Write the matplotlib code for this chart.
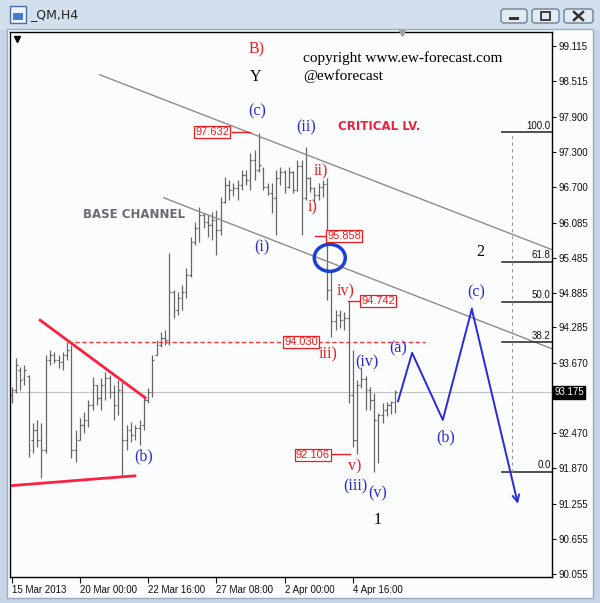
import numpy as np
import matplotlib.pyplot as plt
from matplotlib.patches import Rectangle, Ellipse, FancyBboxPatch
from matplotlib.transforms import blended_transform_factory

W, H = 600, 603

# _QM H4 bars, index 0 = 15 Mar 2013
bar_open = [93.13, 93.21, 93.56, 93.42, 93.45, 92.35, 92.53, 92.35, 92.18, 93.73,
            93.81, 93.73, 93.69, 93.81, 93.90, 92.18, 92.35, 92.61, 92.70, 92.96,
            93.30, 93.08, 93.30, 93.42, 93.18, 92.96, 93.21, 92.35, 92.53, 92.44,
            92.56, 92.61, 93.04, 93.18, 93.81, 93.98, 94.10, 94.07, 94.90, 94.59,
            94.79, 94.89, 95.19, 95.75, 95.99, 96.22, 96.10, 96.04, 96.13, 95.96,
            96.44, 96.73, 96.64, 96.68, 96.73, 96.90, 96.82, 97.16, 96.99, 97.00,
            96.70, 96.60, 96.50, 96.85, 96.95, 96.70, 96.95, 96.65, 97.05, 96.50,
            96.85, 96.68, 96.56, 96.70, 96.75, 94.93, 94.40, 94.50, 94.41, 94.45,
            93.13, 92.35, 93.30, 93.40, 93.21, 93.04, 92.70, 92.78, 92.87, 92.95,
            93.00]
bar_high = [93.26, 93.76, 93.61, 93.64, 93.47, 92.65, 92.70, 92.65, 93.81, 93.90,
            93.86, 93.81, 93.86, 94.04, 93.98, 92.53, 92.73, 92.84, 93.04, 93.44,
            93.30, 93.42, 93.52, 93.47, 93.30, 93.38, 93.35, 92.61, 92.66, 92.61,
            92.70, 93.13, 93.25, 93.81, 94.07, 94.21, 94.24, 95.56, 94.93, 94.89,
            95.01, 95.31, 95.84, 96.10, 96.35, 96.25, 96.22, 96.27, 96.30, 96.52,
            96.87, 96.82, 96.76, 96.82, 96.99, 96.99, 97.28, 97.33, 97.63, 97.04,
            96.76, 96.76, 96.99, 97.04, 96.99, 97.04, 96.97, 97.16, 97.16, 97.38,
            96.86, 96.70, 96.76, 96.82, 96.85, 95.27, 94.59, 94.59, 94.55, 94.74,
            93.90, 93.38, 93.60, 93.45, 93.26, 93.16, 92.82, 92.99, 93.01, 93.03,
            93.21]
bar_low = [92.99, 93.16, 93.21, 93.30, 92.06, 92.13, 92.23, 91.70, 92.13, 93.64,
           93.68, 93.59, 93.56, 93.73, 92.05, 91.98, 92.35, 92.47, 92.58, 92.87,
           92.96, 92.87, 93.04, 93.08, 92.70, 92.78, 91.72, 92.18, 92.32, 92.35,
           92.27, 92.53, 92.99, 93.09, 93.81, 93.95, 93.98, 93.98, 94.45, 94.50,
           94.59, 94.79, 95.15, 95.70, 95.75, 95.99, 95.84, 95.79, 95.53, 95.87,
           96.42, 96.47, 96.54, 96.47, 96.64, 96.73, 96.64, 96.82, 96.95, 96.64,
           96.56, 96.25, 95.87, 96.73, 96.59, 96.68, 96.59, 96.62, 95.87, 96.47,
           96.61, 96.44, 96.47, 96.52, 94.76, 94.12, 94.24, 94.28, 94.24, 92.99,
           92.23, 92.11, 93.25, 92.87, 92.87, 91.81, 91.96, 92.64, 92.76, 92.80,
           92.82]
bar_close = [93.21, 93.64, 93.38, 93.56, 92.18, 92.53, 92.35, 92.18, 93.73, 93.81,
             93.73, 93.69, 93.81, 93.90, 92.18, 92.35, 92.61, 92.70, 92.96, 93.30,
             93.08, 93.30, 93.42, 93.18, 92.96, 93.21, 92.35, 92.53, 92.44, 92.56,
             92.61, 93.04, 93.18, 93.73, 93.98, 94.10, 94.07, 94.90, 94.59, 94.79,
             94.89, 95.19, 95.75, 95.99, 96.22, 96.10, 96.04, 96.13, 95.96, 96.44,
             96.73, 96.64, 96.68, 96.73, 96.90, 96.82, 97.16, 96.99, 97.07, 96.70,
             96.60, 96.50, 96.85, 96.95, 96.70, 96.95, 96.65, 97.05, 96.50, 96.85,
             96.68, 96.56, 96.70, 96.75, 94.93, 94.40, 94.50, 94.41, 94.45, 93.13,
             92.35, 93.30, 93.40, 93.21, 93.04, 92.70, 92.78, 92.87, 92.95, 93.00,
             93.175]

yticks = [99.115, 98.515, 97.900, 97.300, 96.700, 96.085, 95.485, 94.885,
          94.285, 93.670, 93.070, 92.470, 91.870, 91.255, 90.655, 90.055]
xtick_pos = [0, 16, 32, 48, 64, 80]
xtick_labels = ['15 Mar 2013', '20 Mar 00:00', '22 Mar 16:00', '27 Mar 08:00',
                '2 Apr 00:00', '4 Apr 16:00']
last_price = 93.175

# drawn objects (bar index, price)
channel_up_x, channel_up_y = [20.7, 126.7], [98.62, 95.62]
channel_lo_x, channel_lo_y = [35.7, 126.7], [96.51, 93.92]
tri_up_x, tri_up_y = [6.7, 31.3], [94.41, 93.08]
tri_lo_x, tri_lo_y = [-0.4, 28.9], [91.57, 91.74]
level_940 = 94.030
level_940_x = [13.2, 96.9]
proj_x = [90.6, 93.9, 101.1, 107.9, 118.7]
proj_y = [93.02, 93.85, 92.70, 94.60, 91.26]
fib_high, fib_low = 97.632, 91.805
fib_levels = [100.0, 61.8, 50.0, 38.2, 0.0]
fib_x0, fib_vx = 115.0, 117.3
circle_x, circle_y = 74.6, 95.48

# price tags: (text, price, line x0, line x1, box centre px)
price_tags = [('97.632', 97.632, 51.7, 55.9, (212, 132)),
              ('95.858', 95.858, 71.1, 73.7, (344, 236)),
              ('94.742', 94.742, 78.9, 81.5, (378, 301)),
              ('94.030', 94.030, None, None, (301, 342)),
              ('92.106', 92.106, 75.1, 79.3, (313, 455))]

red = '#f01c1c'
blue = '#2828e0'
wave_labels = [('B)', 257, 49, red), ('Y', 256, 77, 'black'),
               ('(c)', 257, 111, blue), ('(ii)', 306, 127, blue),
               ('ii)', 321, 171, red), ('i)', 313, 207, red),
               ('(i)', 262, 247, blue), ('iv)', 346, 291, red),
               ('iii)', 328, 354, red), ('(iv)', 367, 362, blue),
               ('(a)', 398, 348, blue), ('v)', 355, 466, red),
               ('(iii)', 355, 486, blue), ('(v)', 378, 493, blue),
               ('1', 378, 520, 'black'), ('2', 480, 252, 'black'),
               ('(c)', 476, 292, blue), ('(b)', 446, 437, blue),
               ('(b)', 144, 456, blue)]

plt.rcParams['font.family'] = ['Liberation Sans', 'DejaVu Sans']

fig = plt.figure(figsize=(W / 100, H / 100), dpi=100)
fig.patch.set_facecolor('#c6d4e5')

# window chrome
bg = fig.add_axes([0, 0, 1, 1], zorder=0)
bg.set_xlim(0, W)
bg.set_ylim(H, 0)
bg.axis('off')
bg.add_patch(Rectangle((0, 0), W, 30, fc='#d3dfed', ec='none'))
bg.add_patch(Rectangle((7, 29), 586, 569, fc='#fbfcfe', ec='#98abc3', lw=1))
bg.add_patch(Rectangle((10, 6), 16, 17, fc='#eef3fa', ec='#4a6fa8', lw=1))
bg.add_patch(Rectangle((13, 13), 10, 7, fc='#3f7fd0', ec='none'))
bg.text(30, 15, '_QM,H4', fontsize=9, family='DejaVu Sans', color='#222222',
        va='center', ha='left')
for bx, bw in [(501, 26), (532, 27), (564, 29)]:
    bg.add_patch(FancyBboxPatch((bx, 9), bw, 14, boxstyle='round,pad=0,rounding_size=3',
                                fc='#e2eaf4', ec='#6d7e96', lw=1))
bg.add_patch(Rectangle((509, 17), 10, 2.5, fc='#333333', ec='none'))
bg.add_patch(Rectangle((541, 12), 9, 7.5, fc='none', ec='#333333', lw=1.3))
bg.plot([574, 583], [12, 20], color='#333333', lw=1.8)
bg.plot([574, 583], [20, 12], color='#333333', lw=1.8)

# chart
ax = fig.add_axes([10 / W, 26 / H, 542 / W, 545 / H], zorder=1)
ax.set_facecolor('#fbfcfe')
ax.set_xlim(-0.375, 126.7)
ax.set_ylim(90.004, 99.355)
for s in ax.spines.values():
    s.set_color('black')
    s.set_linewidth(1)

ax.yaxis.tick_right()
ax.set_yticks(yticks)
# the 93.070 label sits under the current-price tag
ax.set_yticklabels(['' if abs(v - 93.07) < 1e-6 else f'{v:.3f}' for v in yticks])
ax.tick_params(axis='y', length=3, width=0.8, pad=2, labelsize=7, colors='#111111')
ax.set_xticks(xtick_pos)
ax.set_xticklabels(xtick_labels, ha='left')
ax.tick_params(axis='x', length=4, width=0.8, pad=2, labelsize=7, colors='#111111')

ax.axhline(last_price, color='#c4c4c4', lw=0.8, zorder=0.5)

idx = np.arange(len(bar_high))
bar_col = '#666666'
ax.vlines(idx, bar_low, bar_high, color=bar_col, lw=0.9)
ax.hlines(bar_open, idx - 0.4, idx, color=bar_col, lw=0.9)
ax.hlines(bar_close, idx, idx + 0.4, color=bar_col, lw=0.9)

ax.plot(channel_up_x, channel_up_y, color='#8c8c8c', lw=1)
ax.plot(channel_lo_x, channel_lo_y, color='#8c8c8c', lw=1)
ax.plot(tri_up_x, tri_up_y, color='#ff2040', lw=2)
ax.plot(tri_lo_x, tri_lo_y, color='#ff2040', lw=2)
ax.plot(level_940_x, [level_940, level_940], color='#ff3030', lw=1, dashes=(3, 2))

for text, price, x0, x1, _ in price_tags:
    if x0 is not None:
        ax.plot([x0, x1], [price, price], color=red, lw=1)

# fibonacci retracement
for lv in fib_levels:
    p = fib_low + (fib_high - fib_low) * lv / 100
    ax.plot([fib_x0, 126.7], [p, p], color='#333333', lw=1.2)
    ax.text(126.4, p + 0.03, f'{lv:.1f}', fontsize=7, ha='right', va='bottom',
            color='#111111')
ax.plot([fib_vx, fib_vx], [fib_low, fib_high], color='#9a9a9a', lw=0.8, dashes=(3, 3))

ax.add_patch(Ellipse((circle_x, circle_y), width=31 / 4.265, height=27 * 0.017159,
                     fill=False, ec='#1c3fd4', lw=2.5, zorder=4))

ax.plot(proj_x[:-1], proj_y[:-1], color=blue, lw=1.4)
ax.annotate('', xy=(proj_x[-1], proj_y[-1]), xytext=(proj_x[-2], proj_y[-2]),
            arrowprops=dict(arrowstyle='->', color=blue, lw=1.4, shrinkA=0, shrinkB=0,
                            mutation_scale=12))

trans = blended_transform_factory(ax.transAxes, ax.transData)
ax.text(1.004, last_price, '93.175', transform=trans, fontsize=7, color='white',
        ha='left', va='center', clip_on=False, zorder=10,
        bbox=dict(boxstyle='square,pad=0.15', fc='black', ec='black'))

# annotations
ov = fig.add_axes([0, 0, 1, 1], zorder=3)
ov.set_xlim(0, W)
ov.set_ylim(H, 0)
ov.axis('off')
ov.plot([17], [39], marker='v', color='black', ms=4)
ov.plot([402], [33], marker='v', color='#a0a0a0', ms=5)

for text, x, y, col in wave_labels:
    ov.text(x, y, text, color=col, fontsize=11.5, family='Liberation Serif',
            ha='center', va='center')

ov.text(303, 58, 'copyright www.ew-forecast.com', fontsize=11, family='Liberation Serif',
        ha='left', va='center', color='black')
ov.text(303, 76, '@ewforecast', fontsize=11, family='Liberation Serif',
        ha='left', va='center', color='black')
ov.text(338, 127, 'CRITICAL LV.', fontsize=8.5, family='DejaVu Sans', weight='bold',
        ha='left', va='center', color='#f0203a')
ov.text(83, 214, 'BASE CHANNEL', fontsize=8.5, family='DejaVu Sans', weight='bold',
        ha='left', va='center', color='#6a6a74')

for text, price, x0, x1, (cx, cy) in price_tags:
    ov.text(cx, cy, text, fontsize=8, color=red, ha='center', va='center',
            bbox=dict(boxstyle='square,pad=0.12', fc='white', ec=red, lw=0.9))

fig.savefig('out.png', dpi=100, facecolor=fig.get_facecolor())
